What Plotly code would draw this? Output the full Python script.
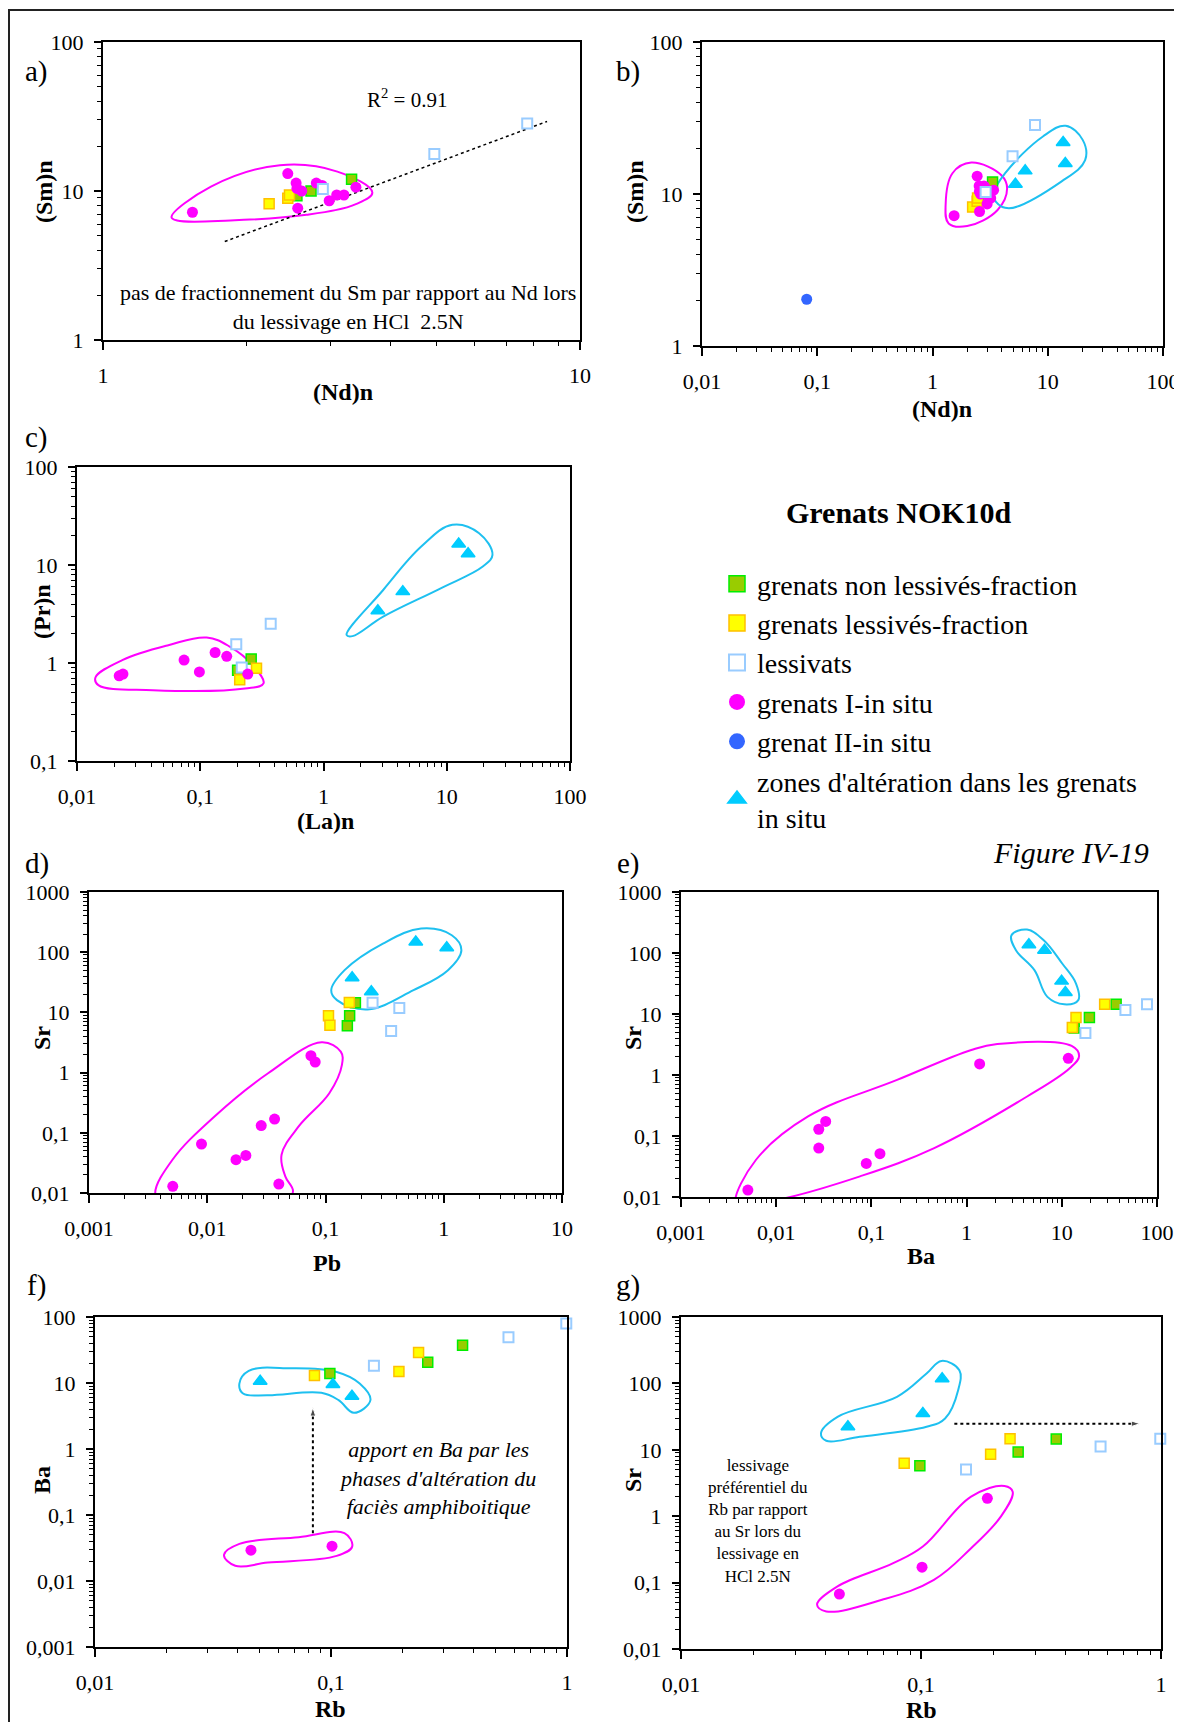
import plotly.graph_objects as go

# the page body keeps an 8 px margin, so the figure is drawn 8 px smaller
OFF = 8
W, H = 1182 - OFF, 1722 - OFF
FONT = "Liberation Serif"

# ---------------- data ----------------
# a) (Nd)n vs (Sm)n  (also used in b)
a_nl_nd = [2.55, 2.73, 3.32]
a_nl_sm = [9.3, 10.0, 12.0]
a_l_nd = [2.23, 2.44, 2.46]
a_l_sm = [8.2, 8.95, 9.4]
a_lv_nd = [2.89, 4.95, 7.75]
a_lv_sm = [10.3, 17.7, 28.4]
a_g1_nd = [1.54, 2.44, 2.54, 2.55, 2.61, 2.56, 2.80, 2.88, 2.98, 3.09, 3.20, 3.39]
a_g1_sm = [7.2, 13.1, 11.3, 10.4, 10.0, 7.67, 11.3, 10.9, 8.6, 9.4, 9.4, 10.6]
a_trend_nd = [1.80, 8.53]
a_trend_sm = [4.58, 29.3]
a_loop_x = [1.85, 1.43, 1.392, 1.684, 2.35, 3.10, 3.67, 3.40, 2.67]
a_loop_y = [6.34, 6.34, 6.67, 10.7, 14.9, 13.5, 9.77, 8.2, 6.92]

# b) extra points
b_g2_nd = [0.081]
b_g2_sm = [2.03]
b_alt_nd = [5.24, 6.37, 13.6, 14.2]
b_alt_sm = [11.6, 14.2, 21.8, 15.9]
b_loop1_x = [2.0, 1.38, 1.30, 1.49, 2.17, 3.96, 4.44, 3.67]
b_loop1_y = [6.15, 6.4, 8.5, 13.7, 16.1, 13.3, 10.9, 7.85]
b_loop2_x = [4.6, 3.54, 3.40, 4.27, 9.08, 14.3, 20.1, 21.1, 13.2]
b_loop2_y = [8.05, 8.9, 10.1, 13.7, 23.9, 28.1, 22.7, 16.7, 12.1]

# c) (La)n vs (Pr)n
c_nl_la = [0.201, 0.259]
c_nl_pr = [0.845, 1.10]
c_l_la = [0.209, 0.286]
c_l_pr = [0.673, 0.886]
c_lv_la = [0.196, 0.217, 0.373]
c_lv_pr = [1.55, 0.90, 2.52]
c_g1_la = [0.022, 0.0236, 0.0739, 0.0984, 0.132, 0.164, 0.243]
c_g1_pr = [0.74, 0.77, 1.07, 0.81, 1.28, 1.17, 0.77]
c_alt_la = [2.76, 4.40, 12.5, 14.9]
c_alt_pr = [3.42, 5.35, 16.4, 13.0]
c_loop1_x = [0.0413, 0.0149, 0.01411, 0.0233, 0.0551, 0.1128, 0.1734, 0.2666, 0.326, 0.2309]
c_loop1_y = [0.528, 0.594, 0.711, 1.07, 1.52, 1.82, 1.47, 0.95, 0.618, 0.549]
c_loop2_x = [8.93, 3.05, 1.72, 1.54, 3.05, 6.24, 11.1, 18.3, 23.5, 19.6]
c_loop2_y = [5.78, 2.97, 1.88, 1.93, 5.56, 15.5, 25.7, 21.1, 12.7, 9.64]

# d) Pb vs Sr
d_nl_pb = [0.153, 0.160, 0.179]
d_nl_sr = [6.0, 8.8, 14.5]
d_l_pb = [0.106, 0.109, 0.159]
d_l_sr = [8.8, 6.1, 14.6]
d_lv_pb = [0.250, 0.421, 0.359]
d_lv_sr = [14.5, 11.8, 4.9]
d_g1_pb = [0.00511, 0.00894, 0.0175, 0.0212, 0.0286, 0.0371, 0.0403, 0.0753, 0.0818]
d_g1_sr = [0.0129, 0.0649, 0.0357, 0.0421, 0.132, 0.169, 0.0141, 1.91, 1.50]
d_alt_pb = [0.168, 0.244, 0.580, 1.06]
d_alt_sr = [37.6, 22.0, 148, 119]
d_loop1_x = [0.01152, 0.0327, 0.0928, 0.1346, 0.1377, 0.1077, 0.0593, 0.0425, 0.0457,
             0.0531, 0.044, 0.01152, 0.00405, 0.00363, 0.00508]
d_loop1_y = [0.187, 0.975, 3.18, 2.23, 1.34, 0.454, 0.1274, 0.0432, 0.0189,
             0.01066, 0.00683, 0.00564, 0.00641, 0.01, 0.0357]
d_loop2_x = [0.555, 0.227, 0.125, 0.1118, 0.145, 0.306, 0.644, 1.17, 1.41, 1.086]
d_loop2_y = [23.4, 11.2, 16.0, 23.4, 50.3, 139, 247, 191, 108, 50.3]

# e) Ba vs Sr
e_nl_ba = [13.5, 19.5, 37.2]
e_nl_sr = [5.9, 8.8, 14.5]
e_l_ba = [12.9, 14.1, 28.2]
e_l_sr = [6.0, 8.8, 14.5]
e_lv_ba = [17.7, 46.6, 78.5]
e_lv_sr = [4.9, 11.6, 14.5]
e_g1_ba = [0.00504, 0.0280, 0.0331, 0.0280, 0.0884, 0.123, 1.37, 11.7]
e_g1_sr = [0.0130, 0.129, 0.173, 0.0634, 0.0355, 0.0512, 1.52, 1.88]
e_alt_ba = [4.51, 6.58, 9.95, 10.9]
e_alt_sr = [137, 111, 34.6, 22.5]
e_loop1_x = [0.186, 1.12, 2.1, 12.7, 15.2, 12.1, 4.32, 0.457, 0.0759, 0.0105, 0.0041, 0.00374, 0.00614, 0.0216]
e_loop1_y = [0.83, 2.57, 3.22, 2.99, 2.05, 1.29, 0.444, 0.0634, 0.0218, 0.00904, 0.0075, 0.0085, 0.0408, 0.209]
e_loop2_x = [5.16, 3.30, 2.96, 4.31, 6.46, 10.1, 14.1, 14.9, 10.6, 7.06]
e_loop2_y = [52.3, 111, 195, 242, 162, 67.3, 31.6, 16.9, 14.4, 19.1]

# f) Rb vs Ba
f_nl_rb = [0.0989, 0.257, 0.361]
f_nl_ba = [13.9, 20.6, 37.3]
f_l_rb = [0.0851, 0.194, 0.235]
f_l_ba = [13.0, 14.9, 28.9]
f_lv_rb = [0.152, 0.565, 0.993]
f_lv_ba = [18.2, 49.2, 79.4]
f_g1_rb = [0.0458, 0.101]
f_g1_ba = [0.0293, 0.0337]
f_alt_rb = [0.0501, 0.1019, 0.1227]
f_alt_ba = [10.6, 9.5, 6.3]
f_arrow_rb = [0.0838, 0.0838]
f_arrow_ba = [0.053, 4.25]
f_loop1_x = [0.054, 0.0393, 0.0352, 0.0409, 0.0729, 0.114, 0.123, 0.1057]
f_loop1_y = [0.019, 0.017, 0.0249, 0.0365, 0.046, 0.053, 0.0333, 0.024]
f_loop2_x = [0.0676, 0.1057, 0.1323, 0.1469, 0.125, 0.1077, 0.091, 0.054, 0.0424, 0.0409, 0.0448]
f_loop2_y = [16.7, 14.7, 9.82, 5.5, 3.53, 5.5, 7.1, 6.55, 6.93, 9.82, 15.3]

# g) Rb vs Sr
g_nl_rb = [0.0989, 0.254, 0.366]
g_nl_sr = [5.76, 9.25, 14.5]
g_l_rb = [0.0851, 0.195, 0.235]
g_l_sr = [6.25, 8.6, 14.7]
g_lv_rb = [0.154, 0.56, 0.993]
g_lv_sr = [5.07, 11.2, 14.7]
g_g1_rb = [0.0457, 0.101, 0.189]
g_g1_sr = [0.0671, 0.171, 1.86]
g_alt_rb = [0.0496, 0.1018, 0.1225]
g_alt_sr = [22.2, 35.2, 118]
g_arrow_rb = [0.1377, 0.817]
g_arrow_sr = [24.7, 24.7]
g_loop1_x = [0.0766, 0.1018, 0.1617, 0.2228, 0.241, 0.215, 0.1617, 0.1132, 0.0688, 0.0403, 0.0369, 0.0449]
g_loop1_y = [0.196, 0.349, 1.97, 2.85, 2.34, 0.986, 0.33, 0.110, 0.0551, 0.0368, 0.0464, 0.0875]
g_loop2_x = [0.0794, 0.1055, 0.1217, 0.1445, 0.1428, 0.126, 0.1055, 0.0556, 0.0403, 0.0383, 0.0449]
g_loop2_y = [62.8, 141, 218, 158, 79, 29.6, 22.2, 15.7, 13.7, 17.7, 31.4]

# tick labels
ticks_val = [0.001, 0.01, 0.1, 1, 10, 100, 1000]
ticks_txt = ["0,001", "0,01", "0,1", "1", "10", "100", "1000"]

legend_names = ["grenats non lessivés-fraction", "grenats lessivés-fraction", "lessivats",
                "grenats I-in situ", "grenat II-in situ",
                "zones d'altération dans les grenats<br>in situ"]

# ---------------- styles ----------------
STYLE = {
    "nl": dict(symbol="square", size=10, color="#99CC00", line=dict(color="#00EE00", width=1.5)),
    "l": dict(symbol="square", size=10, color="#FFFF00", line=dict(color="#FFC000", width=1.5)),
    "lv": dict(symbol="square", size=10, color="white", line=dict(color="#99CCFF", width=2)),
    "g1": dict(symbol="circle", size=11, color="#FF00FF", line=dict(width=0)),
    "g2": dict(symbol="circle", size=11, color="#3366FF", line=dict(width=0)),
    "alt": dict(symbol="triangle-up", size=12, color="#00CCFF", line=dict(color="#00CCFF", width=1.5)),
}
MAGENTA = "#FF00FF"
CYAN = "#1EC0F0"

# plot boxes in page pixels: left, top, right, bottom
BOX = {
    1: (103, 42, 580, 340),
    2: (702, 42, 1163, 346),
    3: (77, 467, 570, 761),
    4: (89, 892, 562, 1193),
    5: (681, 892, 1157, 1197),
    6: (95, 1317, 567, 1647),
    7: (681, 1317, 1161, 1649),
}
XR = {1: [0, 1], 2: [-2, 2], 3: [-2, 2], 4: [-3, 1], 5: [-3, 2], 6: [-2, 0], 7: [-2, 0]}
YR = {1: [0, 2], 2: [0, 2], 3: [-1, 2], 4: [-2, 3], 5: [-2, 3], 6: [-3, 2], 7: [-2, 3]}


def px(x):
    return (x - OFF) / W


def py(y):
    return 1 - (y - OFF) / H


fig = go.Figure()


def ax(i):
    return ("x" if i == 1 else f"x{i}"), ("y" if i == 1 else f"y{i}")


def pts(i, x, y, kind):
    xa, ya = ax(i)
    fig.add_trace(go.Scatter(x=x, y=y, mode="markers", marker=STYLE[kind], xaxis=xa, yaxis=ya,
                             showlegend=False, cliponaxis=False, hoverinfo="skip"))


def loop(i, x, y, color):
    xa, ya = ax(i)
    fig.add_trace(go.Scatter(x=x + x[:1], y=y + y[:1], mode="lines", xaxis=xa, yaxis=ya,
                             line=dict(color=color, width=2, shape="spline", smoothing=1.1),
                             showlegend=False, hoverinfo="skip"))


def arrow(i, x, y):
    xa, ya = ax(i)
    fig.add_trace(go.Scatter(x=x, y=y, mode="lines+markers", xaxis=xa, yaxis=ya,
                             line=dict(color="black", width=2, dash="dot"),
                             marker=dict(symbol="arrow", size=[0, 9], color="black", angleref="previous"),
                             showlegend=False, hoverinfo="skip", cliponaxis=False))


# enclosures
loop(1, a_loop_x, a_loop_y, MAGENTA)
loop(2, b_loop1_x, b_loop1_y, MAGENTA)
loop(2, b_loop2_x, b_loop2_y, CYAN)
loop(3, c_loop1_x, c_loop1_y, MAGENTA)
loop(3, c_loop2_x, c_loop2_y, CYAN)
loop(4, d_loop1_x, d_loop1_y, MAGENTA)
loop(4, d_loop2_x, d_loop2_y, CYAN)
loop(5, e_loop1_x, e_loop1_y, MAGENTA)
loop(5, e_loop2_x, e_loop2_y, CYAN)
loop(6, f_loop1_x, f_loop1_y, MAGENTA)
loop(6, f_loop2_x, f_loop2_y, CYAN)
loop(7, g_loop1_x, g_loop1_y, MAGENTA)
loop(7, g_loop2_x, g_loop2_y, CYAN)

# trend line in a
fig.add_trace(go.Scatter(x=a_trend_nd, y=a_trend_sm, mode="lines", line=dict(color="black", width=1.5, dash="dot"),
                         showlegend=False, hoverinfo="skip"))
arrow(6, f_arrow_rb, f_arrow_ba)
arrow(7, g_arrow_rb, g_arrow_sr)

# points
for i in (1, 2):
    pts(i, a_nl_nd, a_nl_sm, "nl")
    pts(i, a_l_nd, a_l_sm, "l")
    pts(i, a_g1_nd, a_g1_sm, "g1")
    pts(i, a_lv_nd, a_lv_sm, "lv")
pts(2, b_g2_nd, b_g2_sm, "g2")
pts(2, b_alt_nd, b_alt_sm, "alt")

panels = [
    (3, c_nl_la, c_nl_pr, c_l_la, c_l_pr, c_lv_la, c_lv_pr, c_g1_la, c_g1_pr, c_alt_la, c_alt_pr),
    (4, d_nl_pb, d_nl_sr, d_l_pb, d_l_sr, d_lv_pb, d_lv_sr, d_g1_pb, d_g1_sr, d_alt_pb, d_alt_sr),
    (5, e_nl_ba, e_nl_sr, e_l_ba, e_l_sr, e_lv_ba, e_lv_sr, e_g1_ba, e_g1_sr, e_alt_ba, e_alt_sr),
    (6, f_nl_rb, f_nl_ba, f_l_rb, f_l_ba, f_lv_rb, f_lv_ba, f_g1_rb, f_g1_ba, f_alt_rb, f_alt_ba),
    (7, g_nl_rb, g_nl_sr, g_l_rb, g_l_sr, g_lv_rb, g_lv_sr, g_g1_rb, g_g1_sr, g_alt_rb, g_alt_sr),
]
for i, nx, ny, lx, ly, vx, vy, gx, gy, tx, ty in panels:
    pts(i, nx, ny, "nl")
    pts(i, lx, ly, "l")
    pts(i, vx, vy, "lv")
    pts(i, gx, gy, "g1")
    pts(i, tx, ty, "alt")

# legend-only entries
for name, kind in zip(legend_names, ["nl", "l", "lv", "g1", "g2", "alt"]):
    m = dict(STYLE[kind])
    m["size"] = 16
    fig.add_trace(go.Scatter(x=[None], y=[None], mode="markers", marker=m, name=name, showlegend=True))

# axes
layout_axes = {}
for i, (l, t, r, b) in BOX.items():
    xa, ya = ax(i)
    xkey = "xaxis" if i == 1 else f"xaxis{i}"
    ykey = "yaxis" if i == 1 else f"yaxis{i}"
    common = dict(type="log", ticks="outside", tickwidth=1.5, tickcolor="black",
                  tickvals=ticks_val, ticktext=ticks_txt, automargin=False,
                  minor=dict(ticks="outside", ticklen=4, tickwidth=1, tickcolor="black", dtick="D1", showgrid=False),
                  showline=True, linecolor="black", linewidth=2, mirror=True, showgrid=False, zeroline=False,
                  tickfont=dict(family=FONT, size=22, color="black"), fixedrange=True)
    layout_axes[xkey] = dict(common, domain=[px(l), px(r)], range=XR[i], anchor=ya, ticklen=8,
                             ticklabelstandoff=7)
    layout_axes[ykey] = dict(common, domain=[py(b), py(t)], range=YR[i], anchor=xa, ticklen=7,
                             ticklabelstandoff=6)

fig.update_layout(**layout_axes)


def note(x, y, text, size=22, **kw):
    font = dict(family=FONT, size=size, color="black")
    font.update(kw.pop("font", {}))
    kw.setdefault("xanchor", "center")
    kw.setdefault("yanchor", "middle")
    fig.add_annotation(x=px(x), y=py(y), xref="paper", yref="paper", text=text, showarrow=False,
                       font=font, **kw)


# panel labels
for lab, (x, y) in zip("abcdefg", [(37, 72), (628, 72), (37, 438), (37, 864), (628, 864), (37, 1285), (628, 1285)]):
    note(x, y, lab + ")", size=29)

# axis titles
bold = dict(weight="bold")
for txt, (x, y) in [("(Nd)n", (343, 392)), ("(Nd)n", (942, 409)), ("(La)n", (325, 821)), ("Pb", (327, 1263)),
                    ("Ba", (921, 1256)), ("Rb", (330, 1709)), ("Rb", (921, 1710))]:
    note(x, y, txt, size=24, font=bold)
for txt, (x, y) in [("(Sm)n", (44, 192)), ("(Sm)n", (635, 192)), ("(Pr)n", (42, 612)), ("Sr", (42, 1038)),
                    ("Sr", (633, 1038)), ("Ba", (42, 1480)), ("Sr", (633, 1480))]:
    note(x, y, txt, size=24, font=bold, textangle=-90)

note(407, 98, "R<sup>2</sup> = 0.91", size=21)
note(348, 307, "pas de fractionnement du Sm par rapport au Nd lors<br>du lessivage en HCl  2.5N", size=22)
note(437, 1478, "apport en Ba par les<br>phases d'altération du<br>faciès amphiboitique", size=22,
     font=dict(style="italic"))
note(758, 1521, "lessivage<br>préférentiel du<br>Rb par rapport<br>au Sr lors du<br>lessivage en<br>HCl 2.5N", size=17)
note(899, 512, "Grenats NOK10d", size=30, font=bold)
note(1151, 852, "Figure IV-19", size=30, font=dict(style="italic"), xanchor="right")

# outer frame (cut by the right and bottom edges)
fig.add_shape(type="rect", xref="paper", yref="paper", x0=px(9), x1=px(1200), y0=py(1740), y1=py(10),
              line=dict(color="#222", width=2), layer="below")

fig.update_layout(
    width=W, height=H, margin=dict(l=0, r=0, t=0, b=0, autoexpand=False),
    paper_bgcolor="white", plot_bgcolor="white",
    showlegend=True,
    legend=dict(x=px(717), y=py(559), xanchor="left", yanchor="top",
                font=dict(family=FONT, size=28, color="black"), bgcolor="rgba(0,0,0,0)",
                itemclick=False, itemdoubleclick=False),
)

fig.write_html("out.html")
